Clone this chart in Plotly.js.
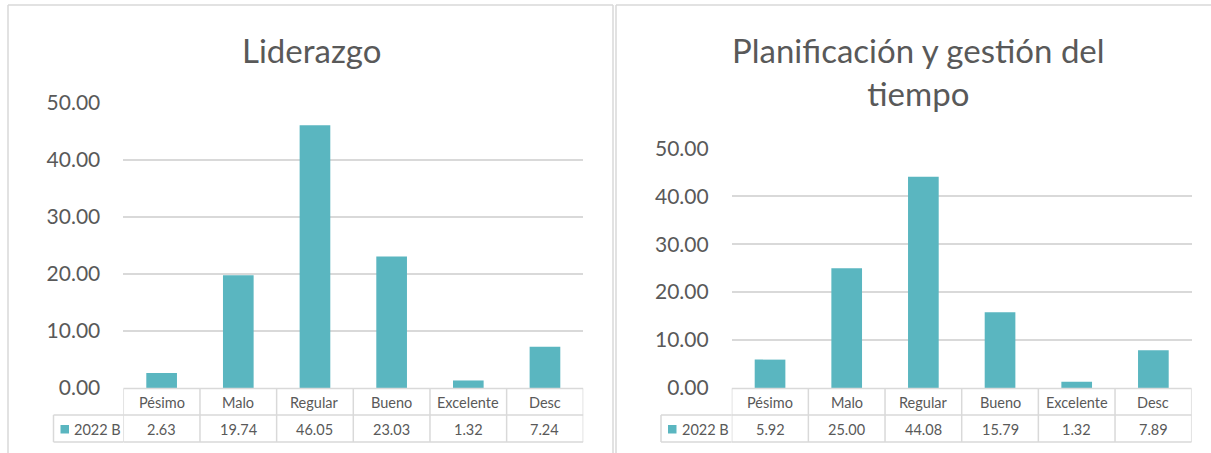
<!DOCTYPE html>
<html>
<head>
<meta charset="utf-8">
<script src="https://cdn.plot.ly/plotly-3.0.1.min.js"></script>
<style>html,body{margin:0;padding:0;background:#fff;}#chart{width:1211px;height:453px;}</style>
</head>
<body>
<div id="chart"></div>
<script>
const categories = ["Pésimo", "Malo", "Regular", "Bueno", "Excelente", "Desc"];
const liderazgo = [2.63, 19.74, 46.05, 23.03, 1.32, 7.24];
const planificacion = [5.92, 25.00, 44.08, 15.79, 1.32, 7.89];
const seriesName = "2022 B";
const titles = ["Liderazgo", "Planificación y gestión del<br>tiempo"];
const yTicks = [0, 10, 20, 30, 40, 50];

const W = 1211, H = 453;
const px = v => v / W;
const py = v => 1 - v / H;
const BAR = "#5AB6C0";
const GRID = "#D9D9D9";
const TXT = "#595959";
const FONT = "Lato, 'Open Sans', sans-serif";

const traces = [
  {type: "bar", x: categories, y: liderazgo, name: seriesName, xaxis: "x", yaxis: "y",
   marker: {color: BAR}, width: 0.4, hoverinfo: "x+y", showlegend: false},
  {type: "bar", x: categories, y: planificacion, name: seriesName, xaxis: "x2", yaxis: "y2",
   marker: {color: BAR}, width: 0.4, hoverinfo: "x+y", showlegend: false}
];

function yax(domTop, anchor) {
  return {
    domain: [py(388), py(domTop)], range: [0, 50], tickvals: yTicks,
    tickformat: ".2f", showgrid: true, gridcolor: GRID, gridwidth: 1.5,
    zeroline: false, showline: false, ticks: "", ticklabelstandoff: 22,
    tickfont: {family: FONT, size: 21, color: TXT}, anchor: anchor, fixedrange: true
  };
}
function xax(l, r, anchor) {
  return {
    domain: [px(l), px(r)], type: "category", categoryarray: categories,
    range: [-0.5, categories.length - 0.5], showticklabels: false, showgrid: false,
    zeroline: false, showline: false, ticks: "", anchor: anchor, fixedrange: true
  };
}

const shapes = [];
const annotations = [];
const lineStyle = {color: GRID, width: 1.5};

// chart borders
shapes.push({type: "line", xref: "paper", yref: "paper", x0: px(8), x1: px(8), y0: py(5), y1: py(460), line: lineStyle});
shapes.push({type: "line", xref: "paper", yref: "paper", x0: px(8), x1: px(613), y0: py(5), y1: py(5), line: lineStyle});
shapes.push({type: "line", xref: "paper", yref: "paper", x0: px(613), x1: px(613), y0: py(5), y1: py(460), line: lineStyle});
shapes.push({type: "line", xref: "paper", yref: "paper", x0: px(616), x1: px(616), y0: py(5), y1: py(460), line: lineStyle});
shapes.push({type: "line", xref: "paper", yref: "paper", x0: px(616), x1: px(1215), y0: py(5), y1: py(5), line: lineStyle});

function table(xref, values, legendLeft, plotLeft) {
  const n = categories.length;
  // top line (axis line) across category columns
  shapes.push({type: "line", xref: xref, yref: "paper", x0: -0.5, x1: n - 0.5, y0: py(388.5), y1: py(388.5), line: lineStyle});
  // middle and bottom lines, starting at the legend cell
  [415, 442].forEach(yy => {
    shapes.push({type: "line", xref: "paper", yref: "paper", x0: px(legendLeft), x1: px(plotLeft), y0: py(yy), y1: py(yy), line: lineStyle});
    shapes.push({type: "line", xref: xref, yref: "paper", x0: -0.5, x1: n - 0.5, y0: py(yy), y1: py(yy), line: lineStyle});
  });
  // vertical lines
  for (let i = 0; i <= n; i++) {
    shapes.push({type: "line", xref: xref, yref: "paper", x0: i - 0.5, x1: i - 0.5, y0: py(388.5), y1: py(442), line: lineStyle});
  }
  shapes.push({type: "line", xref: "paper", yref: "paper", x0: px(legendLeft), x1: px(legendLeft), y0: py(415), y1: py(442), line: lineStyle});
  // legend key
  shapes.push({type: "rect", xref: "paper", yref: "paper", x0: px(legendLeft + 7), x1: px(legendLeft + 15.5),
    y0: py(433.5), y1: py(425), fillcolor: BAR, line: {width: 0}});
  annotations.push({xref: "paper", yref: "paper", x: px(legendLeft + 18.5), y: py(429), text: seriesName,
    showarrow: false, xanchor: "left", yanchor: "middle", font: {family: FONT, size: 14.5, color: TXT}});
  categories.forEach((c, i) => {
    annotations.push({xref: xref, yref: "paper", x: c, y: py(402), text: c, showarrow: false,
      xanchor: "center", yanchor: "middle", font: {family: FONT, size: 14.5, color: TXT}});
    annotations.push({xref: xref, yref: "paper", x: c, y: py(429), text: values[i].toFixed(2), showarrow: false,
      xanchor: "center", yanchor: "middle", font: {family: FONT, size: 14.5, color: TXT}});
  });
}
table("x", liderazgo, 53.5, 123.3);
table("x2", planificacion, 661, 731.7);

// titles
annotations.push({xref: "paper", yref: "paper", x: px(311), y: py(50), text: titles[0], showarrow: false,
  xanchor: "center", yanchor: "middle", font: {family: FONT, size: 33, color: TXT}});
annotations.push({xref: "paper", yref: "paper", x: px(919), y: py(71.5), text: titles[1], showarrow: false,
  xanchor: "center", yanchor: "middle", align: "center", font: {family: FONT, size: 33, color: TXT}});

const layout = {
  width: W, height: H, margin: {l: 0, r: 0, t: 0, b: 0},
  paper_bgcolor: "#fff", plot_bgcolor: "rgba(0,0,0,0)",
  showlegend: false, bargap: 0.6,
  xaxis: xax(123.3, 583.3, "y"), yaxis: yax(102.7, "x"),
  xaxis2: xax(731.7, 1191.7, "y2"), yaxis2: yax(148.3, "x2"),
  shapes: shapes, annotations: annotations
};
Plotly.newPlot("chart", traces, layout, {displayModeBar: false, staticPlot: true});
</script>
</body>
</html>
